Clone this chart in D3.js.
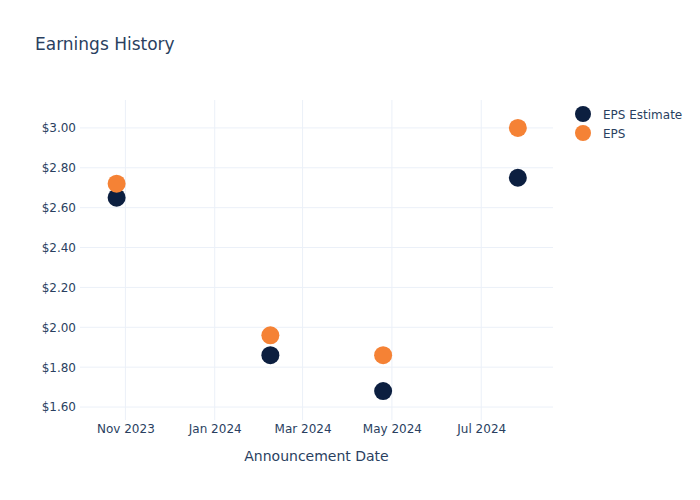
<!DOCTYPE html>
<html>
<head>
<meta charset="utf-8">
<title>Earnings History</title>
<script src="https://d3js.org/d3.v7.min.js"></script>
<style>
  body { margin: 0; background: #fff; }
  text { font-family: "DejaVu Sans", sans-serif; fill: #2a3f5f; }
</style>
</head>
<body>
<div id="chart"></div>
<script>
// data
var dates = ["2023-10-26", "2024-02-08", "2024-04-25", "2024-07-26"];
var epsEstimate = [2.65, 1.86, 1.68, 2.75];
var epsActual = [2.72, 1.96, 1.86, 3.00];
var yTicks = [1.6, 1.8, 2.0, 2.2, 2.4, 2.6, 2.8, 3.0];
var xTicks = ["2023-11-01", "2024-01-01", "2024-03-01", "2024-05-01", "2024-07-01"];
var seriesNames = ["EPS Estimate", "EPS"];
var seriesColors = ["#0c1f40", "#f58235"];

var W = 700, H = 500;
var margin = { top: 100, right: 147, bottom: 80, left: 80 };
var parse = d3.timeParse("%Y-%m-%d");

var svg = d3.select("#chart").append("svg")
    .attr("width", W)
    .attr("height", H);

var x = d3.scaleTime()
    .domain([parse("2023-10-01"), parse("2024-08-19")])
    .range([margin.left, W - margin.right]);

var y = d3.scaleLinear()
    .domain([1.535, 3.14])
    .range([H - margin.bottom, margin.top]);

// gridlines
svg.append("g").selectAll("line")
    .data(yTicks)
    .enter().append("line")
    .attr("x1", margin.left).attr("x2", W - margin.right)
    .attr("y1", function (d) { return y(d); })
    .attr("y2", function (d) { return y(d); })
    .attr("stroke", "#ebf0f8").attr("stroke-width", 1);

svg.append("g").selectAll("line")
    .data(xTicks)
    .enter().append("line")
    .attr("y1", margin.top).attr("y2", H - margin.bottom)
    .attr("x1", function (d) { return x(parse(d)); })
    .attr("x2", function (d) { return x(parse(d)); })
    .attr("stroke", "#ebf0f8").attr("stroke-width", 1);

// axes
var yAxis = svg.append("g")
    .attr("transform", "translate(" + margin.left + ",0)")
    .call(d3.axisLeft(y).tickValues(yTicks).tickSize(0).tickPadding(4)
        .tickFormat(function (d) { return "$" + d3.format(".2f")(d); }));
yAxis.select(".domain").remove();
yAxis.selectAll("text").style("font-size", "12px").attr("fill", "#2a3f5f");

var xAxis = svg.append("g")
    .attr("transform", "translate(0," + (H - margin.bottom) + ")")
    .call(d3.axisBottom(x).tickValues(xTicks.map(parse)).tickSize(0).tickPadding(4)
        .tickFormat(d3.timeFormat("%b %Y")));
xAxis.select(".domain").remove();
xAxis.selectAll("text").style("font-size", "12px").attr("fill", "#2a3f5f");

svg.append("text")
    .attr("x", (margin.left + W - margin.right) / 2)
    .attr("y", 461)
    .attr("text-anchor", "middle")
    .style("font-size", "14px")
    .text("Announcement Date");

svg.append("text")
    .attr("x", 35)
    .attr("y", 50)
    .style("font-size", "17px")
    .text("Earnings History");

// points
[epsEstimate, epsActual].forEach(function (vals, i) {
    svg.append("g").selectAll("circle")
        .data(vals)
        .enter().append("circle")
        .attr("cx", function (d, j) { return x(parse(dates[j])); })
        .attr("cy", function (d) { return y(d); })
        .attr("r", 9)
        .attr("fill", seriesColors[i]);
});

// legend
var legend = svg.append("g").attr("transform", "translate(583,114)");
seriesNames.forEach(function (name, i) {
    var g = legend.append("g").attr("transform", "translate(0," + (i * 19) + ")");
    g.append("circle").attr("r", 8).attr("fill", seriesColors[i]);
    g.append("text").attr("x", 20).attr("y", 4.5)
        .style("font-size", "12px").text(name);
});
</script>
</body>
</html>
